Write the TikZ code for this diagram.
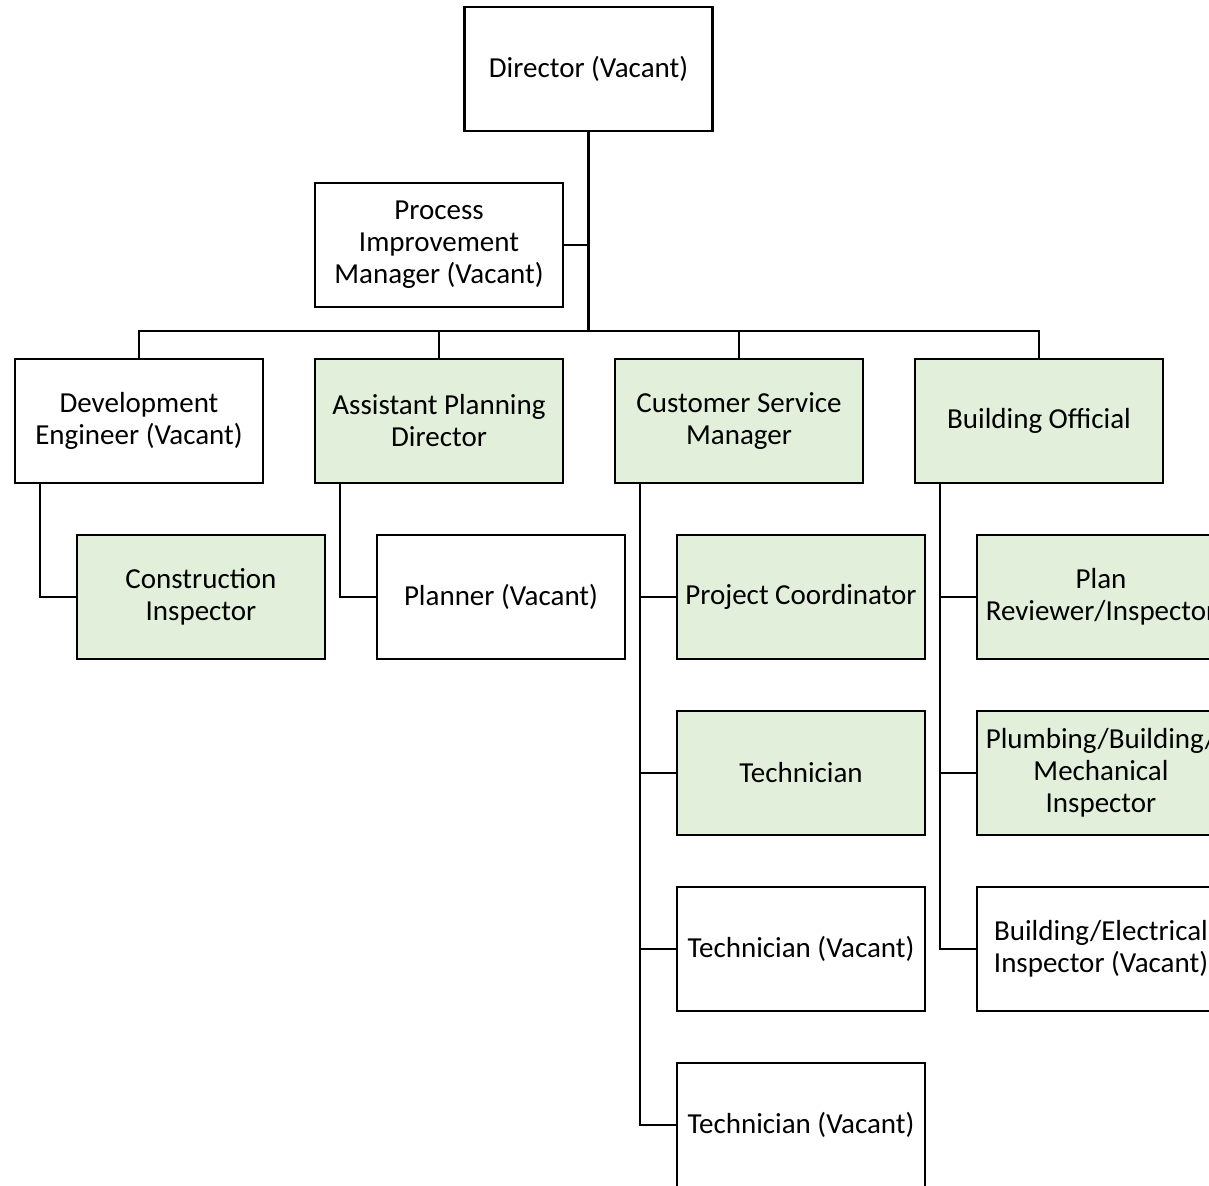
\documentclass[tikz,border=0pt]{standalone}
\usepackage{fontspec}
\setmainfont{Carlito}
\definecolor{boxgreen}{HTML}{E2EFDA}
\begin{document}
\begin{tikzpicture}[x=0.5pt,y=-0.5pt,
 box/.style={draw=black,line width=1.3pt,minimum width=124pt,minimum height=62pt,inner sep=0pt,align=center,font=\fontsize{14.5}{16}\selectfont},
 greenbox/.style={box,fill=boxgreen},
 whitebox/.style={box,fill=white},
 conn/.style={line width=1.4pt}]
\useasboundingbox (0,0) rectangle (1209,1185);
\node[whitebox] (dir) at (588.5,69) {Director (Vacant)};
\node[whitebox] (pim) at (439,245) {Process\\Improvement\\Manager (Vacant)};
\node[whitebox] (dev) at (139,421) {Development\\Engineer (Vacant)};
\node[greenbox] (apd) at (439,421) {Assistant Planning\\Director};
\node[greenbox] (csm) at (739,421) {Customer Service\\Manager};
\node[greenbox] (bo) at (1039,421) {Building Official};
\node[greenbox] (ci) at (201,597) {Construction\\Inspector};
\node[whitebox] (pl) at (501,597) {Planner (Vacant)};
\node[greenbox] (pc) at (801,597) {Project Coordinator};
\node[greenbox] (t1) at (801,773) {Technician};
\node[whitebox] (t2) at (801,949) {Technician (Vacant)};
\node[whitebox] (t3) at (801,1125) {Technician (Vacant)};
\node[greenbox] (pr) at (1101,597) {Plan\\Reviewer/Inspector};
\node[greenbox] (pm) at (1101,773) {Plumbing/Building/\\Mechanical\\Inspector};
\node[whitebox] (be) at (1101,949) {Building/Electrical\\Inspector (Vacant)};
\coordinate (bar) at (588.5,331);
\draw[conn] (dir.south) -- (bar);
\draw[conn] (pim.east) -- (pim.east -| dir.south);
\draw[conn] (dev.north) |- (bar) -| (bo.north);
\draw[conn] (apd.north) -- (apd.north |- bar);
\draw[conn] (csm.north) -- (csm.north |- bar);
\draw[conn] ([xshift=-49.5pt]dev.south) |- (ci.west);
\draw[conn] ([xshift=-49.5pt]apd.south) |- (pl.west);
\draw[conn] ([xshift=-49.5pt]csm.south) |- (pc.west);
\draw[conn] ([xshift=-49.5pt]csm.south) |- (t1.west);
\draw[conn] ([xshift=-49.5pt]csm.south) |- (t2.west);
\draw[conn] ([xshift=-49.5pt]csm.south) |- (t3.west);
\draw[conn] ([xshift=-49.5pt]bo.south) |- (pr.west);
\draw[conn] ([xshift=-49.5pt]bo.south) |- (pm.west);
\draw[conn] ([xshift=-49.5pt]bo.south) |- (be.west);
\end{tikzpicture}
\end{document}
